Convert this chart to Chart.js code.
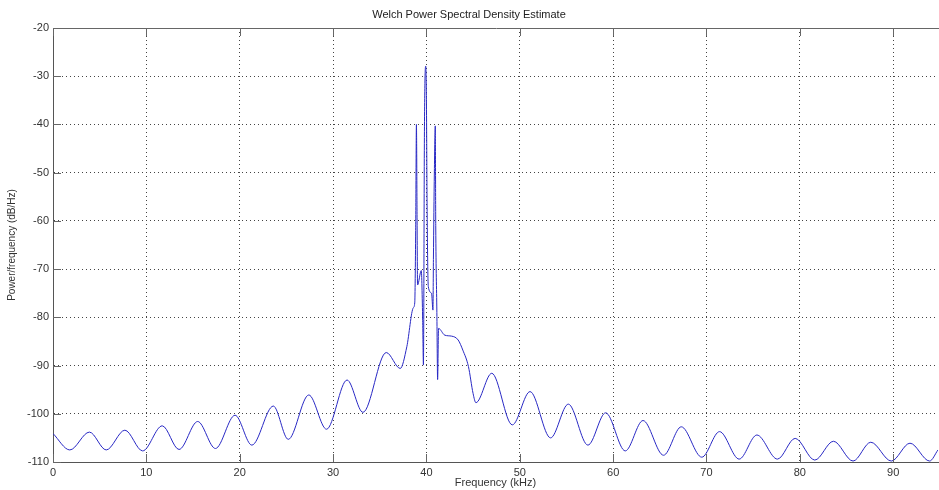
<!DOCTYPE html>
<html>
<head>
<meta charset="utf-8">
<script src="https://cdn.jsdelivr.net/npm/chart.js@4"></script>
<style>
  html, body { margin: 0; padding: 0; background: #fff; }
  #wrap { width: 939px; height: 490px; }
</style>
</head>
<body>
<div id="wrap"><canvas id="psd"></canvas></div>
<script>
// frequency (kHz) and PSD (dB/Hz)
const freqKHz = [
    0, 1.8, 3.9, 5.7, 7.7, 9.6, 11.7, 13.5, 15.5, 17.4, 19.5, 21.3, 23.6, 25.2, 27.4, 29.3,
    31.5, 33.2, 35.7, 37.2, 37.9, 38.6, 38.75, 38.85, 38.93, 39.0, 39.05, 39.45, 39.6, 39.68,
    39.79, 39.93, 40.0, 40.07, 40.2, 40.55, 40.7, 40.75, 40.85, 40.95, 41.0, 41.12, 41.2,
    41.3, 41.97, 42.7, 43.4, 43.9, 44.5, 45.0, 45.3, 47.0, 49.2, 51.1, 53.3, 55.2, 57.3, 59.2, 61.3,
    63.2, 65.4, 67.3, 69.5, 71.4, 73.5, 75.4, 77.6, 79.5, 81.6, 83.6, 85.7, 87.6, 89.8,
    91.8, 93.9, 94.8
];
const psdDb = [
    -104.1, -107.5, -103.8, -107.5, -103.4, -107.7, -102.5, -107.4, -101.6, -107.2, -100.3, -106.5, -98.4, -105.3, -96.1, -103.2,
    -93.0, -99.7, -87.3, -90.6, -86.1, -78.0, -77, -62, -40, -60, -73.3, -70.3, -80.6, -89.9,
    -40.5, -27.9, -34.9, -56.3, -73.6, -75, -78.5, -68, -50, -40.3, -61, -79, -92.9,
    -82.3, -83.7, -83.9, -84.7, -86.8, -90.2, -95.8, -97.7, -91.6, -102.3, -95.4, -105.0, -98.0, -106.5, -99.8, -107.7,
    -101.4, -108.6, -102.7, -109.0, -103.7, -109.4, -104.4, -109.4, -105.1, -109.6, -105.7, -109.8, -105.9, -109.8,
    -106.1, -109.8, -107.5
];
const xTicks = [0, 10, 20, 30, 40, 50, 60, 70, 80, 90];
const yTicks = [-110, -100, -90, -80, -70, -60, -50, -40, -30, -20];

const points = freqKHz.map((f, i) => ({ x: f, y: psdDb[i] }));

// matlab style frame: top line + inward tick marks
const framePlugin = {
    id: 'frame',
    afterDraw(chart) {
        const c = chart.ctx, a = chart.chartArea;
        const sx = chart.scales.x, sy = chart.scales.y;
        c.save();
        c.strokeStyle = '#666';
        c.lineWidth = 1;
        c.beginPath();
        c.moveTo(a.left, a.top + 0.5);
        c.lineTo(a.right + 2, a.top + 0.5);
        xTicks.forEach(v => {
            const px = Math.round(sx.getPixelForValue(v)) + 0.5;
            c.moveTo(px, a.bottom);
            c.lineTo(px, a.bottom - 8);
            c.moveTo(px, a.top);
            c.lineTo(px, a.top + 8);
        });
        yTicks.forEach(v => {
            const py = Math.round(sy.getPixelForValue(v)) + 0.5;
            c.moveTo(a.left, py);
            c.lineTo(a.left + 8, py);
        });
        c.stroke();
        c.restore();
    }
};

new Chart(document.getElementById('psd'), {
    type: 'line',
    data: {
        datasets: [{
            data: points,
            borderColor: '#2828c4',
            borderWidth: 1,
            pointRadius: 0,
            fill: false,
            cubicInterpolationMode: 'monotone'
        }]
    },
    options: {
        responsive: true,
        maintainAspectRatio: false,
        animation: false,
        layout: { padding: { left: 0, right: 1, top: 0, bottom: 0 } },
        plugins: {
            legend: { display: false },
            tooltip: { enabled: false },
            title: {
                display: true,
                text: 'Welch Power Spectral Density Estimate',
                color: '#222',
                font: { family: 'Liberation Sans', size: 11, weight: 'normal' },
                padding: { top: 8, bottom: 6.8 }
            }
        },
        scales: {
            x: {
                type: 'linear',
                min: 0,
                max: 94.8,
                afterBuildTicks: s => { s.ticks = xTicks.map(v => ({ value: v })); },
                afterFit: s => { s.height = 28; },
                // border.dash dashes the grid lines in v4
                border: { display: true, color: '#555', width: 1, dash: [1, 3] },
                grid: {
                    color: '#444',
                    drawTicks: false,
                    lineWidth: 1
                },
                ticks: {
                    color: '#333',
                    padding: 4,
                    maxRotation: 0,
                    font: { family: 'Liberation Sans', size: 11 }
                },
                title: {
                    display: true,
                    text: 'Frequency (kHz)',
                    color: '#333',
                    padding: { top: 0, bottom: 0 },
                    font: { family: 'Liberation Sans', size: 11 }
                }
            },
            y: {
                min: -110,
                max: -20,
                afterBuildTicks: s => { s.ticks = yTicks.map(v => ({ value: v })); },
                afterFit: s => { s.width = 53; },
                border: { display: true, color: '#555', width: 1, dash: [1, 3] },
                grid: {
                    color: '#444',
                    drawTicks: false,
                    lineWidth: 1
                },
                ticks: {
                    color: '#333',
                    padding: 4,
                    font: { family: 'Liberation Sans', size: 11 }
                },
                title: {
                    display: true,
                    text: 'Power/frequency (dB/Hz)',
                    color: '#333',
                    padding: { top: 6, bottom: 0 },
                    font: { family: 'Liberation Sans', size: 10 }
                }
            }
        }
    },
    plugins: [framePlugin]
});
</script>
</body>
</html>
